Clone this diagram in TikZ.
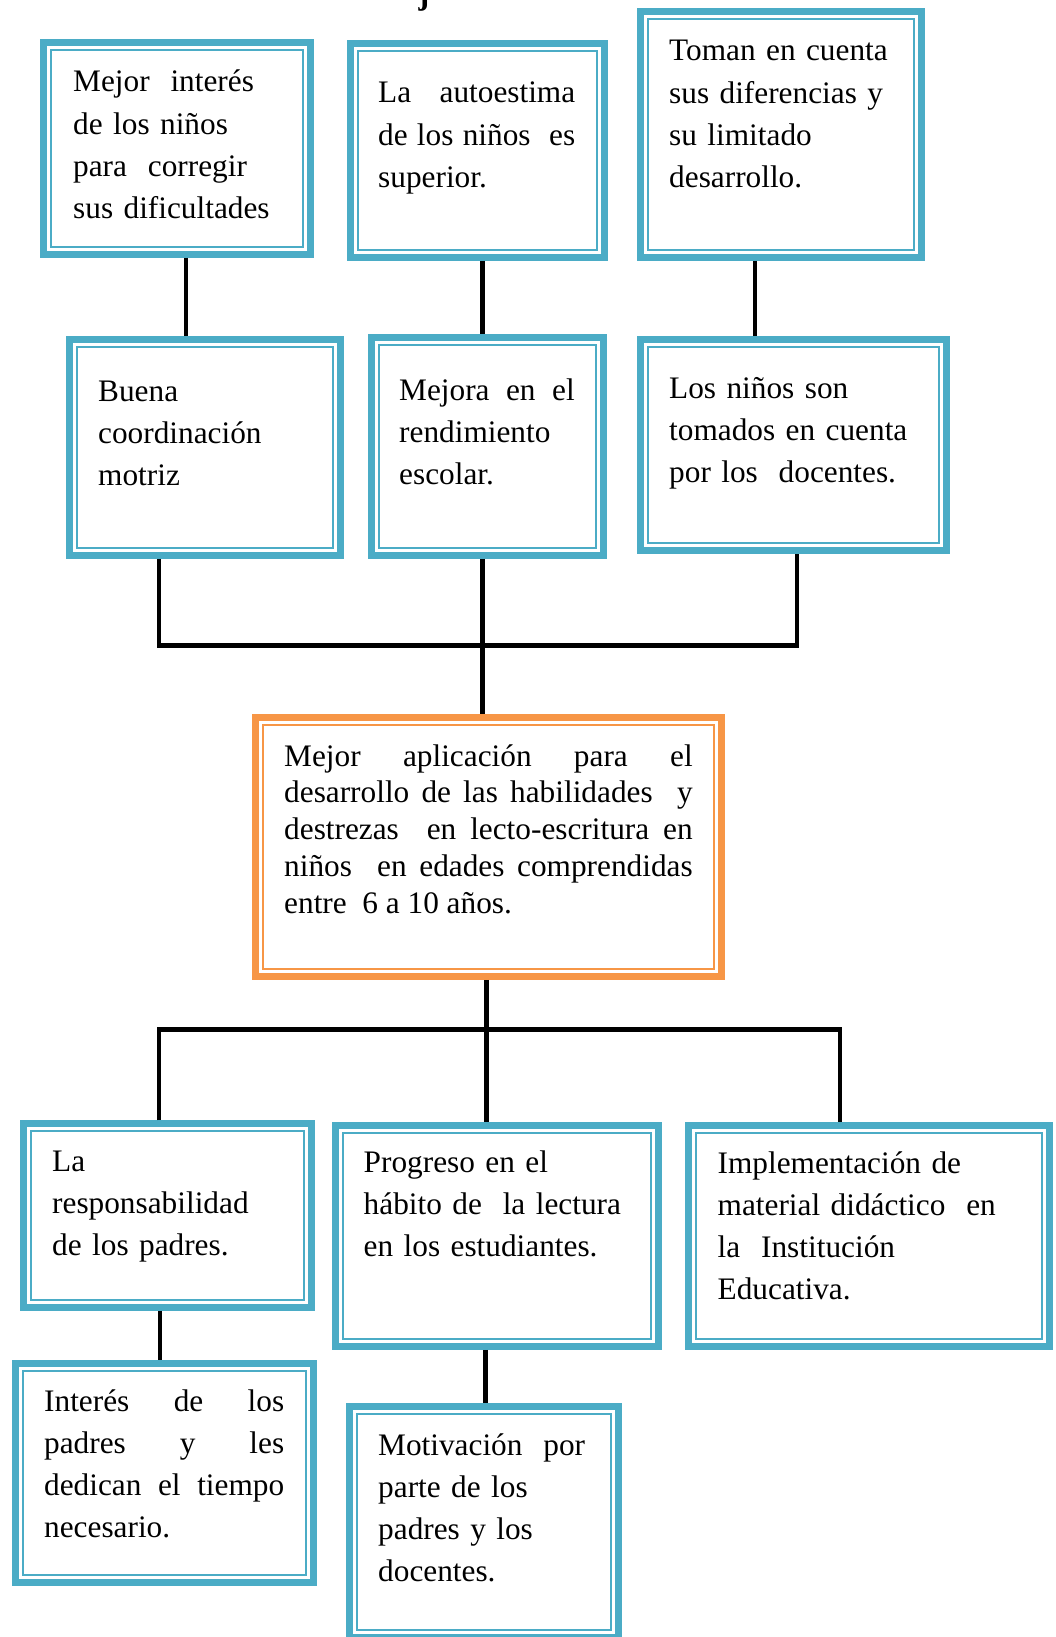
\documentclass[tikz,border=0pt]{standalone}
\usepackage{fontspec}
\setmainfont{Liberation Serif}
\usepackage{tikz}
\usetikzlibrary{positioning,calc}
\definecolor{boxblue}{HTML}{4BACC6}
\definecolor{boxorange}{HTML}{F79646}

\begin{document}
\begin{tikzpicture}[x=1pt,y=-1pt,
	tbox/.style={draw=#1,line width=6.5pt,fill=white,inner sep=0pt,
		path picture={\draw[#1,line width=2pt] ([shift={(7.5pt,-7.5pt)}]path picture bounding box.north west) rectangle ([shift={(-7.5pt,7.5pt)}]path picture bounding box.south east);}},
	txt/.style={anchor=base west,inner sep=0pt,align=left,text width=#1,font=\fontsize{31.3}{42.3}\selectfont},
	jtxt/.style={txt=#1,align=justify},
	link/.style={line width=4.8pt,black}]
	\useasboundingbox (0,0) rectangle (1056,1637);
	\node[anchor=base,inner sep=0pt,font=\fontsize{32}{38}\selectfont\bfseries] (tit) at (424,5) {j};
	% upper row
	\node[tbox=boxblue,minimum width=267pt,minimum height=212pt] (a1) at (177,148.5) {};
	\node[tbox=boxblue,minimum width=254pt,minimum height=214pt] (a2) at (477.5,150.5) {};
	\node[tbox=boxblue,minimum width=281pt,minimum height=246pt] (a3) at (781,134.5) {};
	\node[txt=240pt] (a1t) at (73,92) {Mejor\ \ interés\\de los niños\\para\ \ corregir\\sus dificultades};
	\node[jtxt=197pt] (a2t) at (378,103) {La\ \ \ autoestima\linebreak de los niños\ \ es\linebreak superior.};
	\node[txt=250pt] (a3t) at (669,61) {Toman en cuenta\\sus diferencias y\\su limitado\\desarrollo.};
	% second row
	\node[tbox=boxblue,minimum width=271pt,minimum height=216pt] (b1) at (205,447.5) {};
	\node[tbox=boxblue,minimum width=232pt,minimum height=218pt] (b2) at (487.5,446.5) {};
	\node[tbox=boxblue,minimum width=306pt,minimum height=211pt] (b3) at (793.5,445) {};
	\node[txt=240pt] (b1t) at (98,401) {Buena\\coordinación\\motriz};
	\node[jtxt=175.5pt] (b2t) at (399,400) {Mejora\ \ en\ \ el\linebreak rendimiento\linebreak escolar.};
	\node[txt=270pt] (b3t) at (669,398) {Los niños son\\tomados en cuenta\\por los\ \ docentes.};
	% centre
	\node[tbox=boxorange,minimum width=466pt,minimum height=259pt] (c) at (488.5,847) {};
	\node[jtxt=408.5pt,font=\fontsize{31.3}{36.8}\selectfont] (ct) at (284,766) {Mejor aplicación para el\linebreak desarrollo de las habilidades\ \ y\linebreak destrezas\ \ en lecto-escritura en\linebreak niños\ \ en edades comprendidas\linebreak entre\ \ 6 a 10 años.};
	% lower rows
	\node[tbox=boxblue,minimum width=288pt,minimum height=184pt] (d1) at (167.5,1215.5) {};
	\node[tbox=boxblue,minimum width=323pt,minimum height=221pt] (d2) at (497,1236) {};
	\node[tbox=boxblue,minimum width=361pt,minimum height=221pt] (d3) at (869,1236) {};
	\node[txt=250pt] (d1t) at (52,1171) {La\\responsabilidad\\de los padres.};
	\node[txt=280pt] (d2t) at (363.5,1172) {Progreso en el\\hábito de\ \ la lectura\\en los estudiantes.};
	\node[txt=320pt] (d3t) at (717.5,1173) {Implementación de\\material didáctico\ \ en\\la\ \ Institución\\Educativa.};
	\node[tbox=boxblue,minimum width=298pt,minimum height=219pt] (e1) at (164.5,1473) {};
	\node[tbox=boxblue,minimum width=269pt,minimum height=231pt] (e2) at (484,1522) {};
	\node[jtxt=240pt] (e1t) at (44,1411) {Interés de los\linebreak padres y les\linebreak dedican el tiempo\linebreak necesario.};
	\node[txt=240pt] (e2t) at (378,1455) {Motivación\ \ por\\parte de los\\padres y los\\docentes.};
	% connectors
	\coordinate (j1) at (482.5,645.5);
	\coordinate (j2) at (486.5,1029.5);
	\draw[link] ([xshift=9pt]a1.south) -- ([xshift=9pt]a1.south |- b1.north);
	\draw[link] ([xshift=5pt]a2.south) -- ([xshift=5pt]a2.south |- b2.north);
	\draw[link] ([xshift=-26pt]a3.south) -- ([xshift=-26pt]a3.south |- b3.north);
	\draw[link] ([xshift=-46pt]b1.south) |- (j1) -| ([xshift=3.5pt]b3.south);
	\draw[link] ([xshift=-5pt]b2.south) -- ([xshift=-5pt]b2.south |- c.north);
	\draw[link] ([xshift=-2pt]c.south) -- ([xshift=-2pt]c.south |- d2.north);
	\draw[link] ([xshift=-8.5pt]d1.north) |- (j2) -| ([xshift=-29pt]d3.north);
	\draw[link] ([xshift=-7.5pt]d1.south) -- ([xshift=-7.5pt]d1.south |- e1.north);
	\draw[link] ([xshift=-11.5pt]d2.south) -- ([xshift=-11.5pt]d2.south |- e2.north);
\end{tikzpicture}
\end{document}
